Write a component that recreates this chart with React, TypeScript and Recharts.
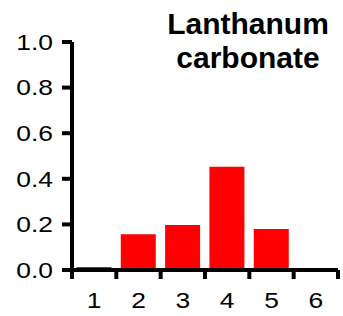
import React from "react";
import { BarChart, Bar, XAxis, YAxis } from "recharts";

const categories = ["1", "2", "3", "4", "5", "6"];
const values = [0.013, 0.157, 0.197, 0.453, 0.18, 0];
const yTicks = [0, 0.2, 0.4, 0.6, 0.8, 1.0];
const titleLines = ["Lanthanum", "carbonate"];

const data = categories.map((c, i) => ({ cat: c, value: values[i] }));

const FONT = "'Liberation Sans', Arial, sans-serif";
const TICK_SIZE = 9;
const TICK_MARGIN = 13;
const STRETCH = 1.2;

const XTick = (props: any) => {
  const { x, y, payload, index } = props;
  const off = payload && payload.offset ? payload.offset : 266 / 6 / 2;
  const y1 = y - TICK_SIZE - TICK_MARGIN;
  const y2 = y - TICK_MARGIN;
  return (
    <g>
      <line x1={x - off} y1={y1} x2={x - off} y2={y2} stroke="#000" strokeWidth={4} />
      {index === categories.length - 1 && (
        <line x1={x + off} y1={y1} x2={x + off} y2={y2} stroke="#000" strokeWidth={4} />
      )}
      <text
        transform={`translate(${x},${y}) scale(${STRETCH},1)`}
        x={0}
        y={0}
        dy="0.71em"
        textAnchor="middle"
        fill="#000"
        fontSize={22}
        fontFamily={FONT}
      >
        {payload.value}
      </text>
    </g>
  );
};

const YTick = (props: any) => {
  const { x, y, payload } = props;
  return (
    <text
      transform={`translate(${x},${y}) scale(${STRETCH},1)`}
      x={0}
      y={0}
      dy="0.355em"
      textAnchor="end"
      fill="#000"
      fontSize={22}
      fontFamily={FONT}
    >
      {Number(payload.value).toFixed(1)}
    </text>
  );
};

export default function App() {
  return (
    <div style={{ position: "absolute", left: 0, top: 0, width: 343, height: 316, background: "#fff" }}>
      <BarChart
        width={343}
        height={316}
        data={data}
        margin={{ top: 42, right: 5, bottom: 0, left: 0 }}
        barCategoryGap="10%"
      >
        <YAxis
          width={72}
          domain={[0, 1]}
          ticks={yTicks}
          interval={0}
          axisLine={{ stroke: "#000", strokeWidth: 4 }}
          tickLine={{ stroke: "#000", strokeWidth: 4 }}
          tickSize={10}
          tickMargin={9}
          tick={<YTick />}
        />
        <XAxis
          dataKey="cat"
          height={46}
          interval={0}
          axisLine={{ stroke: "#000", strokeWidth: 4 }}
          tickLine={false}
          tickSize={TICK_SIZE}
          tickMargin={TICK_MARGIN}
          tick={<XTick />}
        />
        <Bar dataKey="value" fill="#ff0000" isAnimationActive={false} />
      </BarChart>
      <div
        style={{
          position: "absolute",
          left: 148,
          width: 200,
          top: 7,
          textAlign: "center",
          fontFamily: FONT,
          fontWeight: "bold",
          fontSize: 30,
          lineHeight: "34px",
          color: "#000",
        }}
      >
        {titleLines.map((l) => (
          <div key={l}>{l}</div>
        ))}
      </div>
    </div>
  );
}
